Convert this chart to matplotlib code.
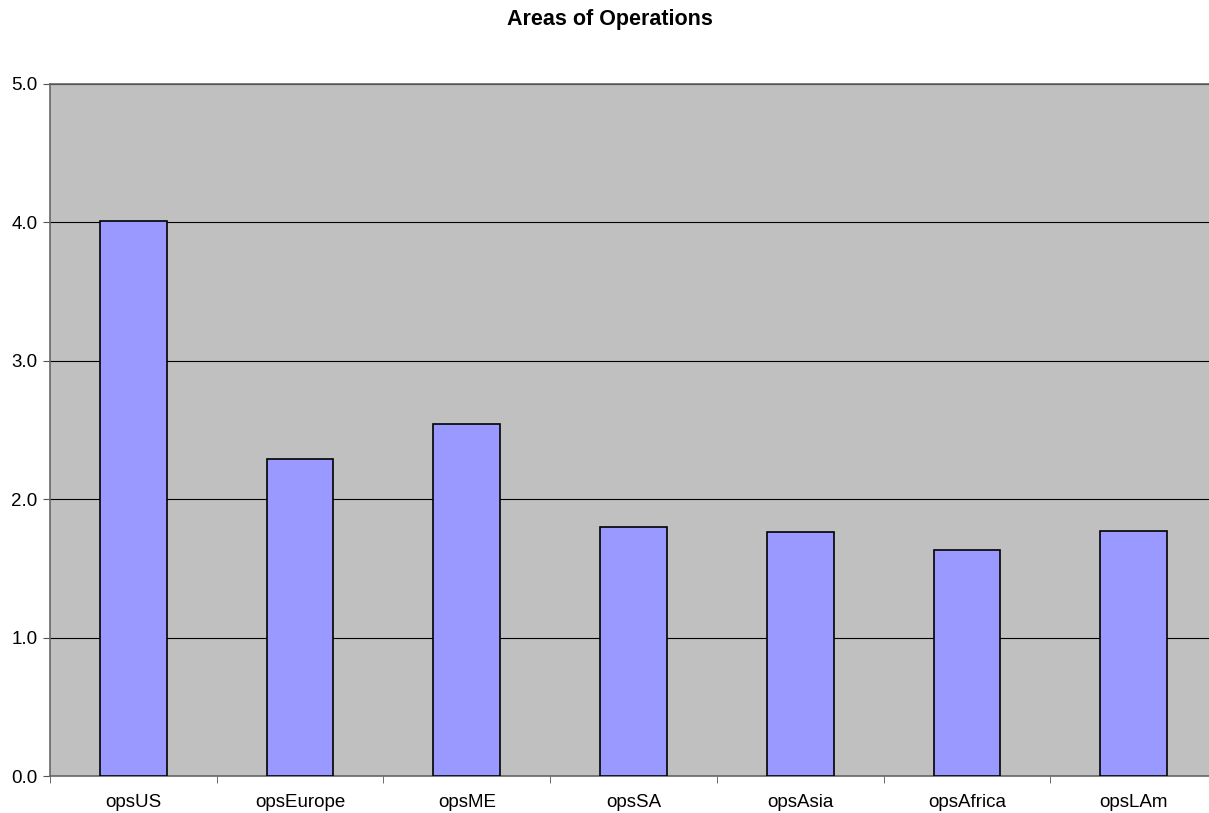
import matplotlib
matplotlib.use("Agg")
import matplotlib.pyplot as plt
import numpy as np

regions = ["opsUS", "opsEurope", "opsME", "opsSA", "opsAsia", "opsAfrica", "opsLAm"]
values = [4.01, 2.29, 2.54, 1.80, 1.76, 1.63, 1.77]

plt.rcParams['font.family'] = ['Liberation Sans', 'DejaVu Sans']

fig = plt.figure(figsize=(12.09, 8.13), dpi=100)
# plot area runs past the right edge of the picture, as in the original
ax = fig.add_axes([50/1209, 1 - 776/813, 1167/1209, 692/813])
ax.set_facecolor("#c0c0c0")

x = np.arange(len(regions))
ax.bar(x, values, width=0.4, color="#9999ff", edgecolor="black", linewidth=1.2, zorder=3)

ax.set_xlim(-0.5, len(regions) - 0.5)
ax.set_ylim(0, 5)
ax.set_yticks(np.arange(0, 5.1, 1.0))
ax.set_yticklabels(["%.1f" % v for v in np.arange(0, 5.1, 1.0)], fontsize=13.5)
ax.set_xticks(x)
ax.set_xticklabels(regions, fontsize=13.5)
ax.set_xticks(np.arange(-0.5, len(regions), 1.0), minor=True)
ax.tick_params(axis="x", which="major", length=0, pad=13)
ax.tick_params(axis="x", which="minor", length=5, color="#555555")
ax.tick_params(axis="y", length=5, color="#555555", pad=4)
ax.grid(axis="y", color="black", linewidth=0.8)

ax.spines["right"].set_visible(False)
for s in ["left", "bottom", "top"]:
    ax.spines[s].set_color("#666666")
    ax.spines[s].set_linewidth(1.2)

fig.text(610/1209, 1 - 19/813, "Areas of Operations", fontsize=15.5, fontweight="bold",
         ha="center", va="center")

fig.savefig("out.png", dpi=100)
